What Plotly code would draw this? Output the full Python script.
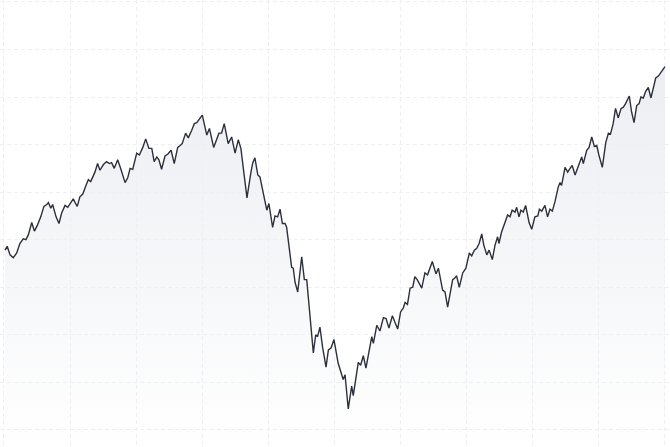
import plotly.graph_objects as go

# Session index (trading day) and index level
days = [0.4, 1.2, 2.3, 3.5, 4.8, 6.0, 7.3, 8.3, 9.2, 10.5, 11.5, 12.6, 13.9, 15.1, 16.2, 16.8,
        17.7, 18.4, 19.7, 20.8, 21.8, 23.1, 24.1, 25.2, 26.2, 26.9, 27.7, 28.7, 29.8, 31.0,
        31.9, 32.8, 33.6, 34.4, 35.4, 36.3, 37.6, 38.8, 39.8, 40.7, 41.7, 43.0, 44.1, 45.8,
        46.8, 47.7, 48.7, 50.2, 51.2, 52.5, 53.6, 54.8, 55.9, 56.8, 57.8, 58.6, 59.6, 60.9,
        62.0, 63.2, 64.4, 65.7, 66.6, 67.4, 68.7, 69.7, 71.0, 72.0, 72.9, 73.8, 75.0, 76.7,
        77.7, 79.3, 80.5, 81.3, 82.3, 83.3, 84.8, 86.1, 87.4, 88.6, 89.6, 90.5, 91.9, 93.4,
        94.1, 94.9, 96.0, 96.8, 98.1, 99.4, 100.2, 101.6, 102.5, 103.5, 104.4, 105.3, 106.3,
        106.9, 108.8, 109.4, 110.1, 111.1, 112.6, 113.6, 114.5, 117.0, 117.9, 118.6, 119.5,
        120.5, 121.8, 122.7, 123.7, 124.8, 126.4, 128.3, 129.0, 130.2, 131.5, 132.1, 134.0,
        134.9, 135.9, 136.9, 139.1, 139.7, 141.0, 142.2, 143.5, 144.5, 145.6, 146.9, 147.9,
        148.9, 150.0, 151.0, 151.7, 152.6, 153.6, 154.6, 155.4, 156.3, 158.0, 159.2, 160.2,
        162.0, 163.4, 164.3, 165.9, 166.8, 167.8, 168.7, 169.7, 170.6, 171.2, 172.2, 173.5,
        174.7, 176.0, 176.9, 177.9, 178.8, 179.7, 180.7, 181.5, 182.6, 183.5, 184.7, 185.7,
        186.7, 187.2, 188.2, 189.5, 190.5, 191.4, 192.2, 193.3, 193.9, 194.8, 195.5, 196.4,
        197.3, 198.6, 199.6, 200.8, 201.9, 202.5, 203.4, 204.6, 205.6, 206.5, 207.4, 208.4,
        209.6, 210.3, 210.9, 212.2, 213.2, 214.1, 214.9, 216.0, 217.0, 217.8, 218.5, 219.1,
        220.4, 221.3, 222.3, 223.3, 224.2, 225.0, 226.3, 227.6, 228.6, 229.4, 230.4, 231.3,
        232.3, 233.4, 234.2, 235.1, 236.5, 237.4, 238.3, 239.3, 240.2, 240.9, 241.8, 242.7,
        243.7, 244.7, 245.6, 246.5, 247.5, 248.4, 249.4, 250.0]

levels = [3189, 3193, 3184, 3181, 3186, 3196, 3201, 3200, 3205, 3218, 3209, 3215, 3224, 3235,
          3237, 3239, 3233, 3237, 3224, 3217, 3228, 3236, 3234, 3239, 3243, 3239, 3235, 3245,
          3248, 3257, 3263, 3261, 3266, 3271, 3280, 3273, 3279, 3282, 3280, 3281, 3275, 3284,
          3275, 3260, 3265, 3275, 3274, 3291, 3289, 3297, 3306, 3296, 3296, 3282, 3287, 3284,
          3274, 3288, 3290, 3294, 3280, 3297, 3299, 3301, 3312, 3307, 3315, 3322, 3323, 3326,
          3331, 3310, 3317, 3297, 3305, 3312, 3312, 3322, 3301, 3308, 3291, 3305, 3296, 3274,
          3244, 3271, 3281, 3286, 3268, 3266, 3247, 3231, 3238, 3213, 3225, 3224, 3232, 3217,
          3217, 3213, 3171, 3170, 3155, 3145, 3182, 3158, 3158, 3081, 3100, 3098, 3108, 3087,
          3066, 3084, 3086, 3095, 3070, 3053, 3058, 3022, 3046, 3036, 3071, 3068, 3078, 3065,
          3098, 3091, 3110, 3104, 3118, 3117, 3107, 3120, 3113, 3106, 3124, 3128, 3134, 3132,
          3149, 3150, 3161, 3158, 3149, 3165, 3163, 3177, 3164, 3170, 3147, 3145, 3129, 3145,
          3158, 3160, 3162, 3150, 3165, 3170, 3186, 3183, 3189, 3191, 3196, 3206, 3194, 3184,
          3189, 3179, 3194, 3203, 3196, 3208, 3218, 3226, 3224, 3231, 3229, 3234, 3224, 3231,
          3229, 3236, 3218, 3211, 3224, 3225, 3232, 3230, 3236, 3224, 3232, 3230, 3240, 3255,
          3260, 3257, 3276, 3271, 3275, 3278, 3268, 3276, 3280, 3287, 3280, 3294, 3297, 3308,
          3298, 3299, 3289, 3276, 3302, 3312, 3311, 3322, 3338, 3328, 3338, 3339, 3343, 3351,
          3334, 3323, 3341, 3343, 3350, 3349, 3356, 3360, 3349, 3360, 3370, 3372, 3376, 3380,
          3382]

x_grid = [0, 25, 50, 75, 100, 125, 150, 175, 200, 225, 250]

fig = go.Figure()
fig.add_trace(go.Scatter(
    x=days, y=levels, mode="lines",
    line=dict(color="#2c303b", width=1.4),
    fill="tozeroy",
    fillgradient=dict(
        type="vertical", start=2982, stop=3382,
        colorscale=[[0, "rgba(238,240,244,0.0)"], [0.5, "rgba(238,240,244,0.6)"],
                    [1, "rgba(236,238,242,1)"]],
    ),
    hoverinfo="skip", showlegend=False,
))

fig.update_layout(
    width=670, height=447,
    margin=dict(l=0, r=0, t=0, b=0),
    paper_bgcolor="white", plot_bgcolor="white",
    showlegend=False,
)
fig.update_xaxes(range=[-1.51, 251.9], tickvals=x_grid, showticklabels=False,
                 showgrid=True, gridcolor="#efeff1", griddash="4px,3px", gridwidth=1,
                 zeroline=False, showline=False, ticks="")
fig.update_yaxes(range=[2982, 3452], tick0=3000, dtick=50, showticklabels=False,
                 showgrid=True, gridcolor="#efeff1", griddash="4px,3px", gridwidth=1,
                 zeroline=False, showline=False, ticks="")

fig.write_html("out.html", config={"displayModeBar": False},
               post_script="document.body.style.margin='0';document.body.style.overflow='hidden';")
